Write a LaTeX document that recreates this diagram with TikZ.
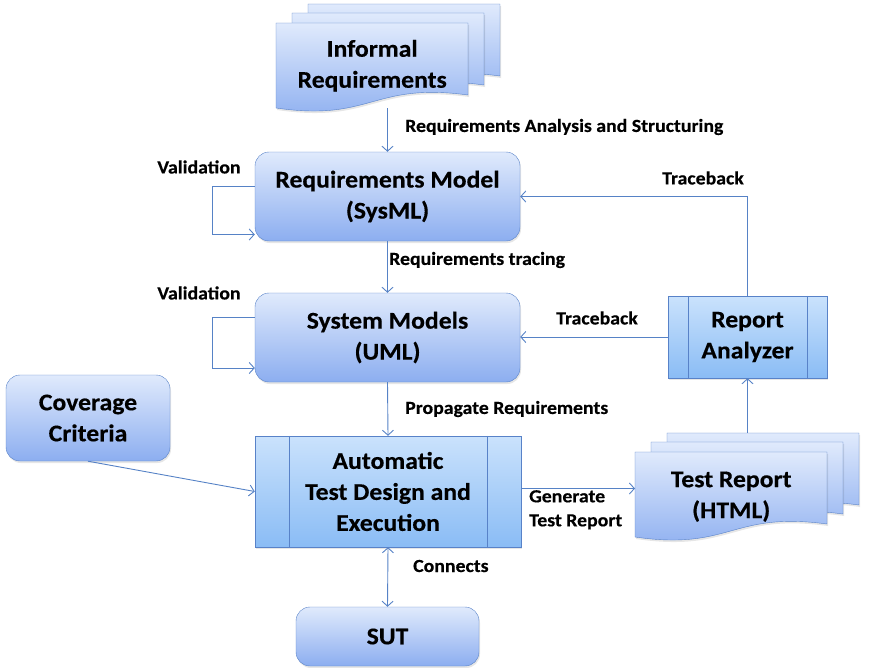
\documentclass[tikz,border=0pt]{standalone}
\usepackage{fontspec}
\setmainfont{Carlito}[FakeStretch=1.07, BoldFeatures={FakeBold=0.4}]
\usepackage{tikz}
\usetikzlibrary{positioning,arrows.meta,shadows}

\definecolor{boxline}{RGB}{88,130,200}
\definecolor{roundtop}{RGB}{224,234,252}
\definecolor{roundbot}{RGB}{140,174,240}
\definecolor{proctop}{RGB}{202,226,252}
\definecolor{procbot}{RGB}{138,188,245}
\definecolor{arrowcol}{RGB}{86,130,198}

\newcommand\bigfont{\fontsize{24}{31}\selectfont\bfseries}
\newcommand\lblfont{\fontsize{18.5}{24}\selectfont\bfseries}

% one sheet of a document stack, top left corner at (#1,#2)
\newcommand\docpage[3]{%
  \path[page] (#1,#2) -- ++(192,0) -- ++(0,72)
    .. controls +(-96,-13) and +(96,14) .. ++(-192,13) -- cycle;
  \node[inner sep=0pt, minimum width=192, minimum height=85, anchor=north west] (#3) at (#1,#2) {};
}

\begin{document}
\begin{tikzpicture}[
x=1pt, y=-1pt,
page/.style={
  draw=boxline,
  top color=roundtop,
  bottom color=roundbot,
  drop shadow={shadow xshift=1pt, shadow yshift=-2pt, opacity=0.2}
  },
roundbox/.style={
  draw=boxline,
  rounded corners=14pt,
  top color=roundtop,
  bottom color=roundbot,
  align=center,
  font=\bigfont,
  inner sep=0pt,
  drop shadow={shadow xshift=1pt, shadow yshift=-2pt, opacity=0.2}
  },
procbox/.style={
  draw=boxline,
  top color=proctop,
  bottom color=procbot,
  align=center,
  font=\bigfont,
  inner sep=0pt,
  drop shadow={shadow xshift=1pt, shadow yshift=-2pt, opacity=0.2}
  },
doctext/.style={
  align=center,
  font=\bigfont
  },
lbl/.style={
  font=\lblfont,
  inner sep=0pt
  },
link/.style={
  draw=arrowcol,
  line width=0.9pt
  },
>={Straight Barb[length=5pt,width=11pt]}
]
\useasboundingbox (0,0) rectangle (870,667);

\foreach \dx/\dy/\pg in {32/-19/back,16/-10/mid,0/0/front}
  \docpage{276+\dx}{23+\dy}{informal-\pg};
\node[doctext] (informal) at (informal-front.center) {Informal\\Requirements};

\foreach \dx/\dy/\pg in {32/-19/back,16/-10/mid,0/0/front}
  \docpage{635+\dx}{452+\dy}{testrep-\pg};
\node[doctext] (testrep) at ([yshift=-2pt]testrep-front.center) {Test Report\\(HTML)};

\node[roundbox, minimum width=265, minimum height=89] (reqmodel) at (387.5,196.5) {Requirements Model\\(SysML)};
\node[roundbox, minimum width=265, minimum height=89] (sysmodel) at (387.5,337.5) {System Models\\(UML)};
\node[roundbox, minimum width=164, minimum height=86] (coverage) at (88,418) {Coverage\\Criteria};
\node[roundbox, minimum width=183, minimum height=59] (sut) at (387.5,636.5) {SUT};
\node[procbox, minimum width=266, minimum height=111] (atd) at (388,491.5) {Automatic\\Test Design and\\Execution};
\node[procbox, minimum width=159, minimum height=82] (analyzer) at (747.5,337) {Report\\Analyzer};

\foreach \n/\o in {atd/34,analyzer/20}
{
  \draw[boxline] ([xshift=\o pt]\n.north west) -- ([xshift=\o pt]\n.south west);
  \draw[boxline] ([xshift=-\o pt]\n.north east) -- ([xshift=-\o pt]\n.south east);
}

\draw[link,->] (informal-front.south -| reqmodel.north) -- (reqmodel.north);
\draw[link,->] (reqmodel.south) -- (sysmodel.north);
\draw[link,->] (sysmodel.south) -- (atd.north);
\draw[link,<->] (atd.south) -- (sut.north);
\draw[link,->] (coverage.south) -- (atd.west);
\draw[link,->] ([yshift=3pt]atd.east) -- ([yshift=3pt]atd.east -| testrep-front.west);
\draw[link,->] (testrep-back.north -| analyzer.south) -- (analyzer.south);
\draw[link,->] (analyzer.west) -- (analyzer.west -| sysmodel.east);
\draw[link,->] (analyzer.north) |- (reqmodel.east);
\draw[link,->] ([yshift=10.5pt]reqmodel.west) -- ++(-42,0) |- ([yshift=-38pt]reqmodel.west);
\draw[link,->] ([yshift=20.5pt]sysmodel.west) -- ++(-42,0) |- ([yshift=-30.5pt]sysmodel.west);

\node[lbl, anchor=west] (l-ras) at (405,127) {Requirements Analysis and Structuring};
\node[lbl, anchor=west] (l-trace) at (389,260) {Requirements tracing};
\node[lbl, anchor=west] (l-prop) at (405,409) {Propagate Requirements};
\node[lbl, anchor=west] (l-conn) at (413,566) {Connects};
\node[lbl, anchor=north west, align=left] (l-gen) at (529,490) {Generate\\Test Report};
\node[lbl] (l-valid1) at (199,167) {Validation};
\node[lbl] (l-valid2) at (199,293) {Validation};
\node[lbl] (l-back1) at (703,178) {Traceback};
\node[lbl] (l-back2) at (597,318) {Traceback};
\end{tikzpicture}
\end{document}
